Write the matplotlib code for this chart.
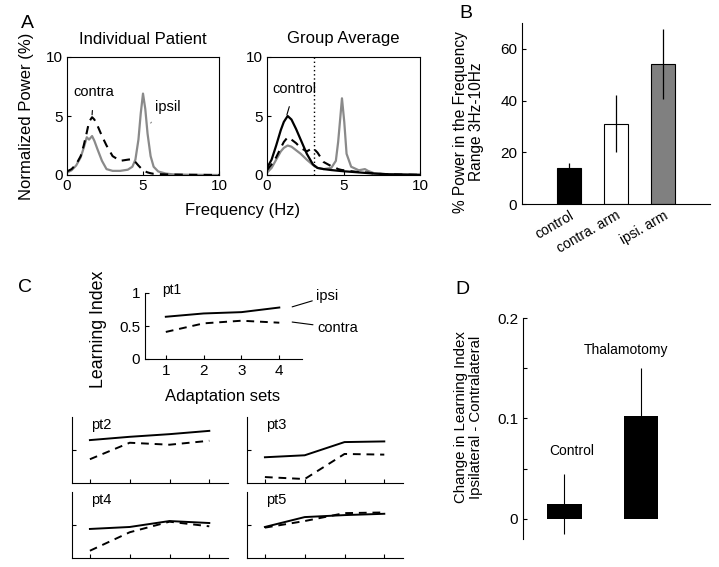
import matplotlib.pyplot as plt

plt.rcParams['font.family'] = ['Liberation Sans', 'DejaVu Sans']
plt.rcParams['font.size'] = 11

# ---- panel A : individual patient spectra
freq_ind = [0, 0.3, 0.6, 0.9, 1.1, 1.3, 1.45, 1.65, 1.8, 2.0, 2.3, 2.6, 3.0, 3.5,
            4.0, 4.3, 4.5, 4.7, 4.85, 5.0, 5.15, 5.3, 5.5, 5.7, 6.0, 6.5, 7, 8, 10]
ipsil_ind = [0.2, 0.4, 0.8, 1.5, 2.3, 3.2, 3.0, 3.3, 2.9, 2.2, 1.2, 0.5, 0.35, 0.35,
             0.45, 0.7, 1.3, 3.0, 5.2, 6.9, 5.6, 3.5, 1.6, 0.7, 0.3, 0.12, 0.05, 0.02, 0]
contra_ind = [0.3, 0.5, 0.9, 1.6, 2.5, 3.6, 4.5, 4.9, 4.7, 4.2, 3.3, 2.5, 1.6, 1.2,
              1.3, 1.35, 1.1, 0.8, 0.6, 0.4, 0.3, 0.22, 0.15, 0.1, 0.08, 0.05, 0.04, 0.02, 0]

# ---- panel A : group average spectra
freq_grp = [0, 0.3, 0.6, 0.9, 1.1, 1.35, 1.6, 1.9, 2.2, 2.6, 3.0, 3.3, 3.7, 4.2,
            4.5, 4.65, 4.8, 4.9, 5.05, 5.2, 5.5, 6.0, 6.4, 6.6, 7, 8, 10]
control_grp = [0.6, 1.3, 2.5, 3.8, 4.5, 5.0, 4.7, 3.9, 3.0, 1.8, 0.9, 0.6, 0.5, 0.42,
               0.38, 0.36, 0.34, 0.33, 0.31, 0.3, 0.27, 0.22, 0.18, 0.16, 0.12, 0.06, 0.02]
contra_grp = [0.4, 0.9, 1.5, 2.3, 2.8, 3.2, 3.0, 2.7, 2.3, 2.0, 2.3, 1.9, 1.1, 0.75,
              0.6, 0.5, 0.45, 0.42, 0.4, 0.38, 0.32, 0.25, 0.22, 0.2, 0.12, 0.05, 0.01]
ipsi_grp = [0.2, 0.6, 1.3, 2.0, 2.3, 2.5, 2.4, 2.1, 1.8, 1.3, 0.85, 0.6, 0.5, 0.6,
            1.2, 2.8, 5.0, 6.5, 4.5, 1.8, 0.7, 0.4, 0.5, 0.35, 0.15, 0.05, 0]

# ---- panel B
b_groups = ['control', 'contra. arm', 'ipsi. arm']
b_mean = [14, 31, 54]
b_err = [2, 11, 13.5]

# ---- panel C : learning index per adaptation set
sets = [1, 2, 3, 4]
pt_names = ['pt1', 'pt2', 'pt3', 'pt4', 'pt5']
ipsi_li = {
    'pt1': [0.64, 0.69, 0.71, 0.78],
    'pt2': [0.65, 0.70, 0.74, 0.79],
    'pt3': [0.39, 0.42, 0.62, 0.63],
    'pt4': [0.44, 0.47, 0.56, 0.53],
    'pt5': [0.47, 0.62, 0.65, 0.67],
}
contra_li = {
    'pt1': [0.41, 0.54, 0.58, 0.55],
    'pt2': [0.36, 0.61, 0.58, 0.64],
    'pt3': [0.09, 0.06, 0.44, 0.43],
    'pt4': [0.11, 0.39, 0.55, 0.48],
    'pt5': [0.46, 0.56, 0.68, 0.69],
}

# ---- panel D
d_groups = ['Control', 'Thalamotomy']
d_mean = [0.015, 0.102]
d_err = [0.03, 0.048]

W, H = 719, 567
fig = plt.figure(figsize=(W / 100, H / 100), dpi=100)


def px(x0, y0, x1, y1):
    # pixel box -> figure fraction rect
    return [x0 / W, 1 - y1 / H, (x1 - x0) / W, (y1 - y0) / H]


def ftext(x, y, s, **kw):
    # text placed by pixel position (from top-left)
    return fig.text(x / W, 1 - y / H, s, ha='center', va='center', **kw)


gray = '#8a8a8a'
tick_fs = 11

# ---------------- A
axA1 = fig.add_axes(px(67, 57, 219, 175))
axA2 = fig.add_axes(px(267, 57, 420, 175))
for ax in (axA1, axA2):
    ax.set_xlim(0, 10)
    ax.set_ylim(0, 10)
    ax.set_xticks([0, 5, 10])
    ax.set_yticks([0, 5, 10])
    ax.tick_params(direction='in', length=3, labelsize=tick_fs, pad=3)
    for s in ax.spines.values():
        s.set_linewidth(0.8)

axA1.plot(freq_ind, ipsil_ind, color=gray, lw=1.6)
axA1.plot(freq_ind, contra_ind, color='k', lw=1.5, dashes=(4, 3))
axA1.annotate('contra', xy=(1.65, 5.1), xytext=(1.75, 7.0), ha='center', va='center',
              fontsize=10.5, arrowprops=dict(arrowstyle='-', lw=0.8, color='k',
                                             shrinkA=6, shrinkB=0))
axA1.annotate('ipsil', xy=(5.5, 4.4), xytext=(6.6, 5.8), ha='center', va='center',
              fontsize=10.5, arrowprops=dict(arrowstyle='-', lw=0.8, color=gray,
                                             shrinkA=6, shrinkB=0))

axA2.plot(freq_grp, ipsi_grp, color=gray, lw=1.6)
axA2.plot(freq_grp, contra_grp, color='k', lw=1.5, dashes=(4, 3))
axA2.plot(freq_grp, control_grp, color='k', lw=1.6)
axA2.axvline(3.1, color='k', lw=1, ls=(0, (1, 2)))
axA2.annotate('control', xy=(1.3, 5.1), xytext=(1.8, 7.3), ha='center', va='center',
              fontsize=10.5, arrowprops=dict(arrowstyle='-', lw=0.8, color='k',
                                             shrinkA=6, shrinkB=0))
ftext(143, 39, 'Individual Patient', fontsize=12)
ftext(343, 39, 'Group Average', fontsize=12)
ftext(27, 116, 'Normalized Power (%)', fontsize=12, rotation=90)
ftext(243, 210, 'Frequency (Hz)', fontsize=12)
ftext(27, 24, 'A', fontsize=14)

# ---------------- B
axB = fig.add_axes(px(522, 23, 710, 204))
pos = [1, 2, 3]
axB.bar(pos, b_mean, width=0.5, color=['k', 'w', '#808080'], edgecolor='k', lw=0.8)
axB.errorbar(pos, b_mean, yerr=b_err, fmt='none', ecolor='k', elinewidth=0.9, capsize=0)
axB.set_xlim(0, 4)
axB.set_ylim(0, 70)
axB.set_yticks([0, 20, 40, 60])
axB.set_xticks(pos)
axB.set_xticklabels(b_groups, rotation=30, ha='right', rotation_mode='anchor', fontsize=10)
axB.tick_params(axis='y', direction='in', length=3, labelsize=tick_fs)
axB.tick_params(axis='x', length=0, pad=3)
axB.spines['top'].set_visible(False)
axB.spines['right'].set_visible(False)
ftext(468.5, 122, '% Power in the Frequency\nRange 3Hz-10Hz', fontsize=11.2,
      rotation=90, linespacing=1.1)
ftext(466, 14, 'B', fontsize=14)

# ---------------- C
rects = {
    'pt1': px(145, 293, 302, 359),
    'pt2': px(72, 417, 228, 483),
    'pt3': px(247, 417, 403, 483),
    'pt4': px(72, 492, 228, 558),
    'pt5': px(247, 492, 403, 558),
}
for name in pt_names:
    ax = fig.add_axes(rects[name])
    ax.plot(sets, ipsi_li[name], color='k', lw=1.4)
    ax.plot(sets, contra_li[name], color='k', lw=1.4, dashes=(4, 3))
    ax.set_ylim(0, 1)
    ax.spines['top'].set_visible(False)
    ax.spines['right'].set_visible(False)
    for s in ax.spines.values():
        s.set_linewidth(0.8)
    ax.tick_params(direction='in', length=3)
    if name == 'pt1':
        ax.set_xlim(0.45, 4.6)
        ax.set_xticks(sets)
        ax.set_yticks([0, 0.5, 1])
        ax.set_yticklabels(['0', '0.5', '1'])
        ax.tick_params(labelsize=tick_fs)
        ax.text(0.9, 1.04, name, fontsize=10, va='center')
        ax.annotate('ipsi', xy=(4.34, 0.79), xytext=(4.98, 0.95), va='center', ha='left',
                    fontsize=10.5, annotation_clip=False,
                    arrowprops=dict(arrowstyle='-', lw=0.8, color='k', shrinkA=1, shrinkB=0))
        ax.annotate('contra', xy=(4.34, 0.56), xytext=(5.0, 0.47), va='center', ha='left',
                    fontsize=10.5, annotation_clip=False,
                    arrowprops=dict(arrowstyle='-', lw=0.8, color='k', shrinkA=1, shrinkB=0))
    else:
        ax.set_xlim(0.55, 4.47)
        ax.set_xticks(sets)
        ax.set_yticks([0.5])
        ax.set_xticklabels([])
        ax.set_yticklabels([])
        ax.text(1.02, 0.88, name, fontsize=10.5, va='center')
ftext(98, 329, 'Learning Index', fontsize=12.8, rotation=90)
ftext(223, 397, 'Adaptation sets', fontsize=12)
ftext(25, 288, 'C', fontsize=14)

# ---------------- D
axD = fig.add_axes(px(523, 318, 687, 539))
dpos = [1, 2]
axD.bar(dpos, d_mean, width=0.45, color='k')
axD.errorbar(dpos, d_mean, yerr=d_err, fmt='none', ecolor='k', elinewidth=0.8, capsize=0)
axD.set_xlim(0.46, 2.6)
axD.set_ylim(-0.02, 0.2)
axD.set_yticks([0, 0.05, 0.1, 0.15, 0.2])
axD.set_yticklabels(['0', '', '0.1', '', '0.2'])
axD.set_xticks([])
axD.tick_params(direction='in', length=3, labelsize=tick_fs)
for s in ('top', 'right', 'bottom'):
    axD.spines[s].set_visible(False)
axD.spines['left'].set_linewidth(0.8)
ftext(468.5, 417, 'Change in Learning Index\nIpsilateral - Contralateral', fontsize=10.8,
      rotation=90, linespacing=1.1)
axD.text(dpos[0] + 0.1, 0.068, d_groups[0], ha='center', va='center', fontsize=10)
axD.text(dpos[1] - 0.2, 0.168, d_groups[1], ha='center', va='center', fontsize=10)
ftext(462, 289, 'D', fontsize=14)

fig.savefig('out.png', dpi=100)
